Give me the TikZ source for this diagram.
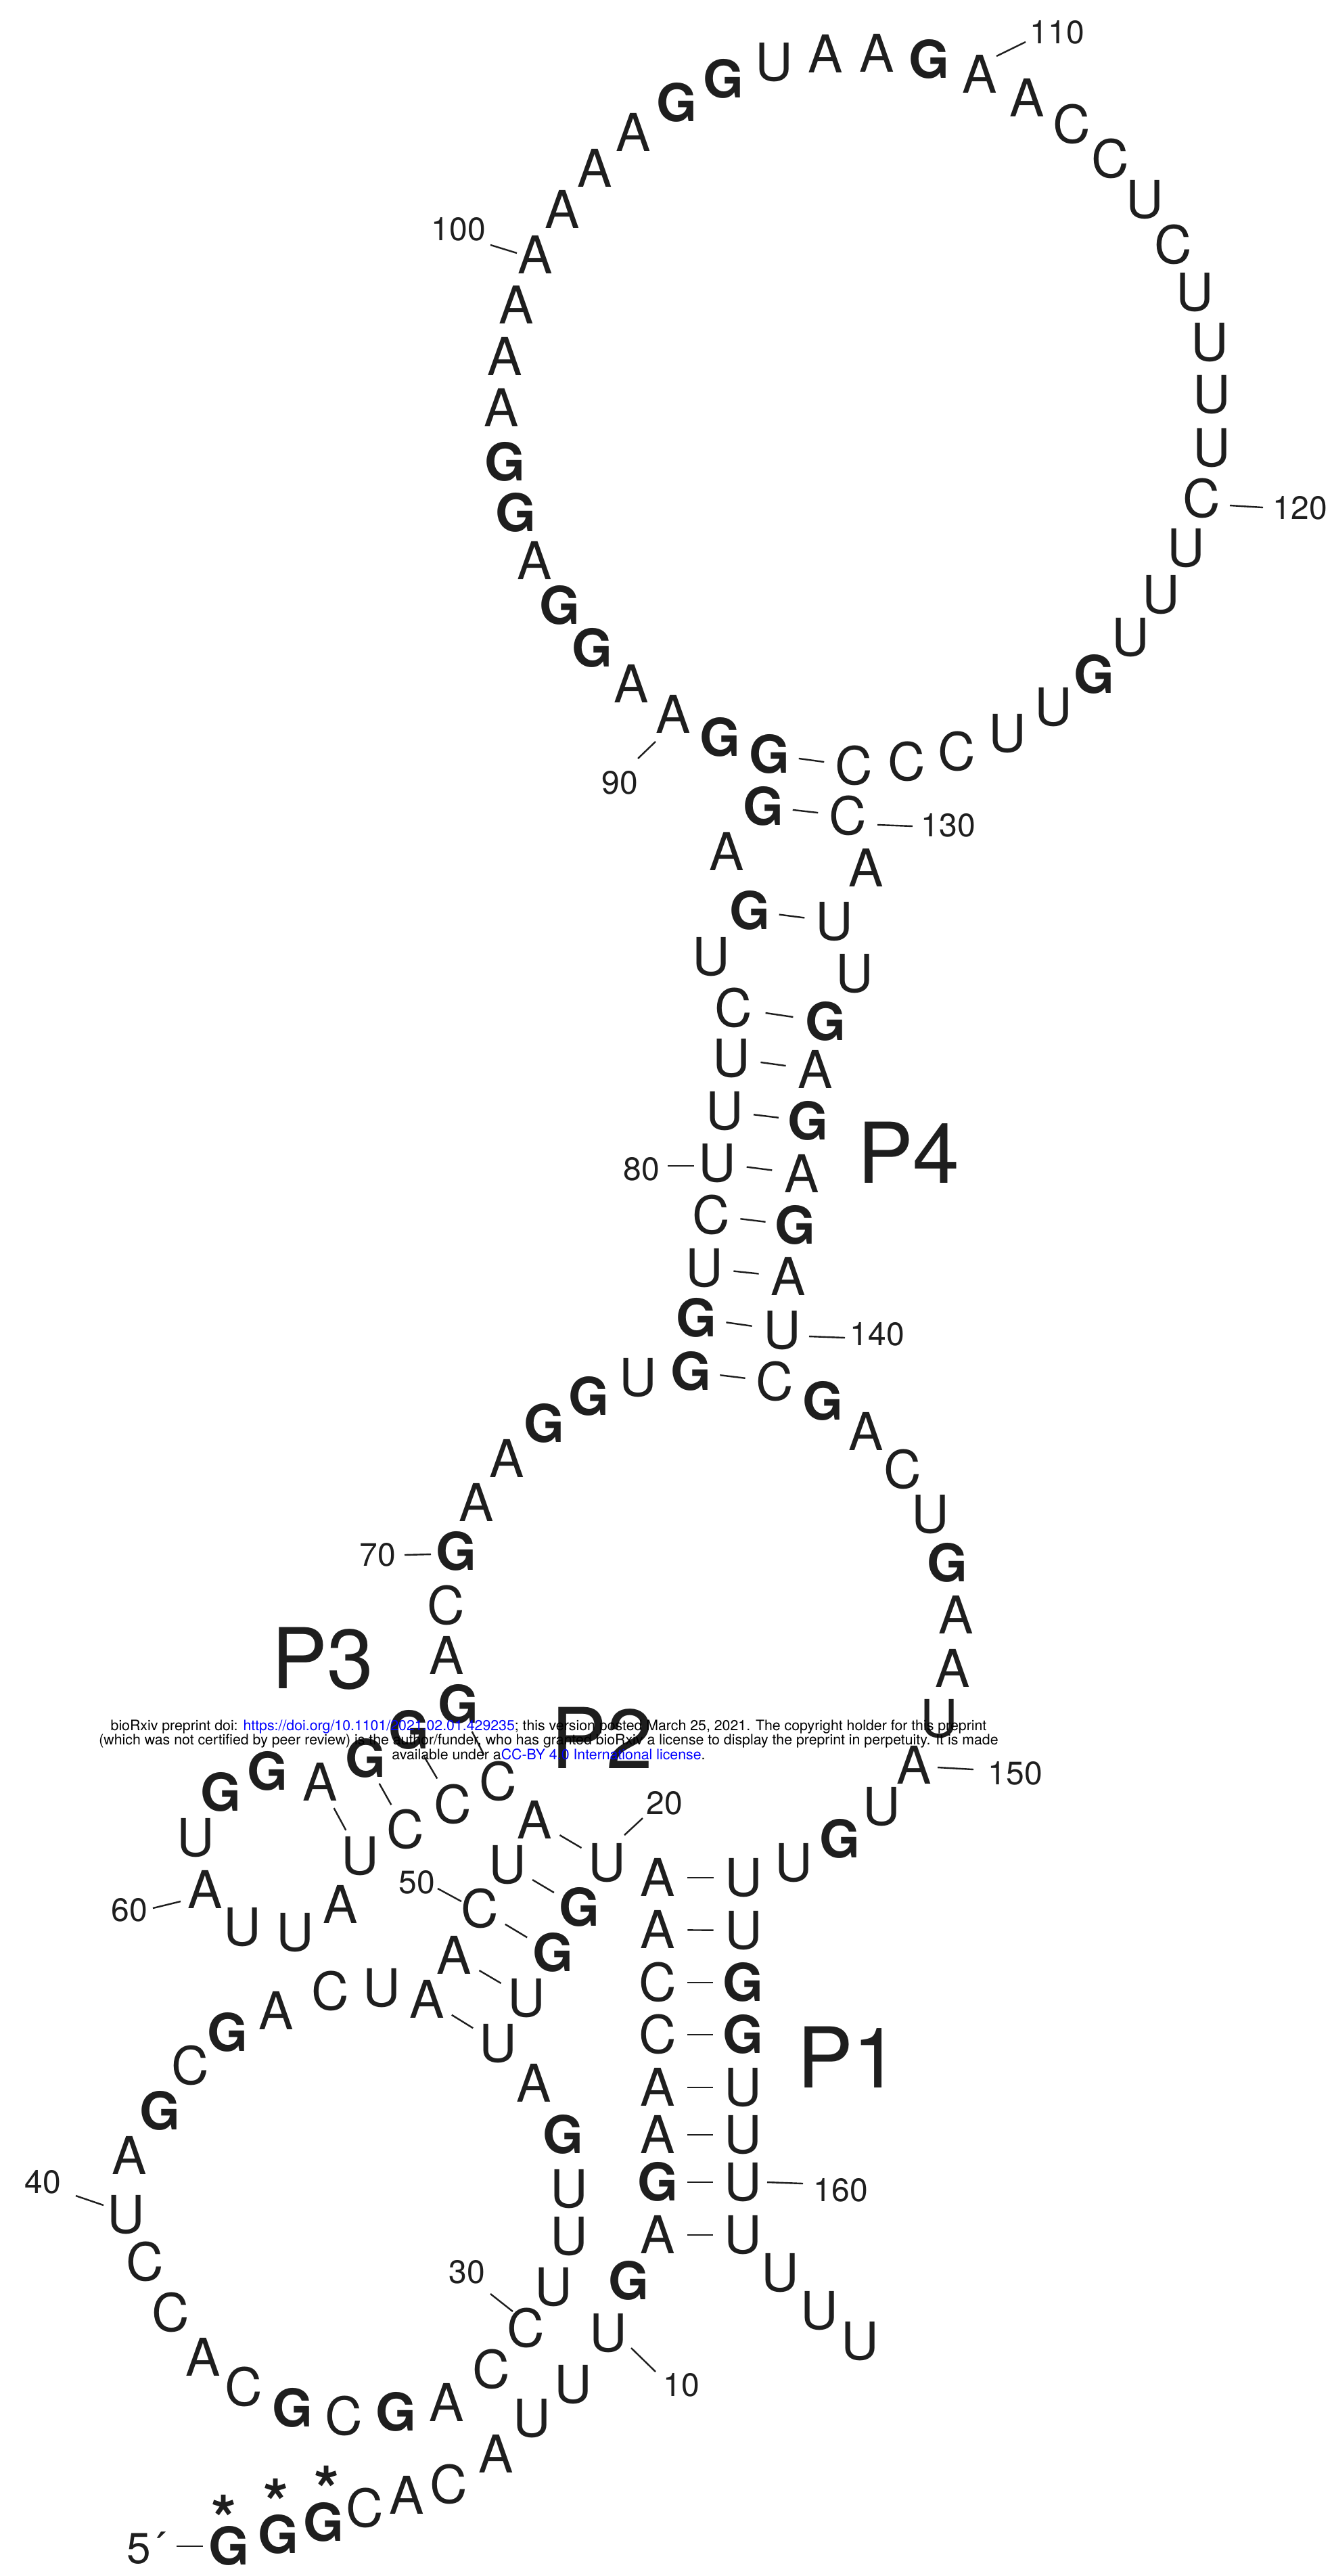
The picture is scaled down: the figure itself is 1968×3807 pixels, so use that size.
\documentclass[tikz,border=0pt]{standalone}
\usepackage{fontspec}
\setmainfont{TeX Gyre Heros}
\usetikzlibrary{calc}
\newcommand\nuc[1]{\if G#1\bfseries\fi #1}
\definecolor{wmblue}{RGB}{0,0,255}
\definecolor{ink}{RGB}{30,30,30}
\tikzset{
 nt/.style={inner sep=0pt, text height=55pt, text depth=0pt, text=ink, font=\fontsize{77}{80}\selectfont},
 num/.style={inner sep=0pt, text height=34pt, text depth=0pt, text=ink, font=\fontsize{48}{50}\selectfont},
 plab/.style={inner sep=0pt, text height=89pt, text depth=0pt, text=ink, font=\fontsize{124}{130}\selectfont},
 tick/.style={line width=2.4pt, draw=ink},
 wm/.style={inner sep=0pt, anchor=base, font=\fontsize{21.3}{22}\selectfont},
 ast/.style={inner sep=0pt, anchor=base, text=ink, font=\bfseries\fontsize{95}{95}\selectfont},
}
\begin{document}
\begin{tikzpicture}[x=1pt,y=-1pt]
\fill[white] (0,0) rectangle (1968,3807);
\useasboundingbox (0,0) rectangle (1968,3807);
% nucleotides
\foreach \i/\x/\y/\l in {
1/338/3763/G, 2/411/3746/G, 3/478/3728/G, 4/539/3707/C, 5/601/3688/A,
6/663/3672/C, 7/733/3627/A, 8/786/3574/U, 9/847/3524/U, 10/899/3448/U,
11/929/3371/G, 12/972/3303/A, 13/972/3225/G, 14/972/3155/A, 15/972/3085/A,
16/972/3007/C, 17/972/2930/C, 18/972/2852/A, 19/972/2775/A, 20/897/2753/U,
21/856/2819/G, 22/817/2886/G, 23/778/2953/U, 24/736/3020/U, 25/789/3079/A,
26/832/3155/G, 27/841/3235/U, 28/841/3305/U, 29/818/3380/U, 30/777/3441/C,
31/726/3502/C, 32/660/3551/A, 33/585/3565/G, 34/508/3571/C, 35/432/3559/G,
36/360/3528/C, 37/300/3484/A, 38/252/3418/C, 39/214/3343/C, 40/186/3273/U,
41/191/3186/A, 42/236/3120/G, 43/281/3053/C, 44/336/3004/G, 45/408/2972/A,
46/488/2943/C, 47/564/2938/U, 48/631/2955/A, 49/671/2890/A, 50/709/2821/C,
51/750/2756/U, 52/790/2690/A, 53/736/2633/C, 54/669/2667/C, 55/599/2704/C,
56/532/2743/U, 57/503/2815/A, 58/436/2856/U, 59/358/2848/U, 60/303/2793/A,
61/289/2716/U, 62/326/2649/G, 63/395/2618/G, 64/473/2634/A, 65/540/2599/G,
66/604/2557/G, 67/677/2519/G, 68/660/2447/A, 69/659/2373/C, 70/674/2293/G,
71/704/2221/A, 72/749/2156/A, 73/804/2104/G, 74/870/2064/G, 75/943/2036/U,
76/1021/2027/G, 77/1029/1948/G, 78/1041/1874/U, 79/1051/1796/C, 80/1060/1719/U,
81/1071/1642/U, 82/1081/1564/U, 83/1084/1490/C, 84/1051/1414/U, 85/1108/1346/G,
86/1074/1259/A, 87/1128/1192/G, 88/1137/1115/G, 89/1064/1090/G, 90/995/1056/A,
91/933/1011/A, 92/875/958/G, 93/827/895/G, 94/790/829/A, 95/762/758/G,
96/746/683/G, 97/741/603/A, 98/746/527/A, 99/763/451/A, 100/791/377/A,
101/831/310/A, 102/879/249/A, 103/936/196/A, 104/1000/152/G, 105/1069/117/G,
106/1144/92/U, 107/1220/80/A, 108/1296/79/A, 109/1373/88/G, 110/1448/110/A,
111/1518/145/A, 112/1584/184/C, 113/1641/235/C, 114/1692/295/U, 115/1734/362/C,
116/1766/432/U, 117/1788/506/U, 118/1791/583/U, 119/1791/662/U, 120/1776/737/C,
121/1753/810/U, 122/1716/879/U, 123/1671/942/U, 124/1617/997/G, 125/1557/1045/U,
126/1489/1084/U, 127/1414/1111/C, 128/1340/1126/C, 129/1262/1132/C, 130/1253/1206/C,
131/1280/1283/A, 132/1233/1362/U, 133/1263/1439/U, 134/1220/1510/G, 135/1205/1581/A,
136/1194/1657/G, 137/1185/1735/A, 138/1175/1811/G, 139/1165/1887/A, 140/1156/1966/U,
141/1145/2042/C, 142/1216/2071/G, 143/1280/2116/A, 144/1334/2172/C, 145/1375/2238/U,
146/1400/2310/G, 147/1413/2387/A, 148/1408/2466/A, 149/1388/2540/U, 150/1351/2609/A,
151/1303/2670/U, 152/1241/2718/G, 153/1173/2753/U, 154/1099/2775/U, 155/1099/2853/U,
156/1098/2930/G, 157/1098/3007/G, 158/1098/3085/U, 159/1098/3155/U, 160/1098/3225/U,
161/1098/3303/U, 162/1153/3359/U, 163/1211/3415/U, 164/1271/3460/U}
{\node[nt] (n\i) at (\x,\y) {\nuc{\l}};}
% base-pair ticks
\foreach \a/\b in {12/161,13/160,14/159,15/158,16/157,17/156,18/155,19/154,
20/52,21/51,22/50,23/49,24/48,53/67,54/66,55/65,56/64,
76/141,77/140,78/139,79/138,80/137,81/136,82/135,83/134,85/132,87/130,88/129}
{\draw[tick] ($(n\a)!0.35!(n\b)$) -- ($(n\a)!0.65!(n\b)$);}
% number labels
\foreach \k/\x/\y in {10/1007/3524, 20/982/2664, 30/690/3357, 40/63/3224,
50/616/2781, 60/191/2822, 70/558/2297, 80/948/1727, 90/916/1156,
100/678/338, 110/1563/47, 120/1922/750, 130/1402/1219, 140/1297/1971,
150/1501/2620, 160/1243/3236}
{\node[num] (l\k) at (\x,\y) {\k};}
\foreach \k/\xa/\ya/\xb/\yb in {10/933/3470/969/3505, 20/923/2712/950/2687,
30/725/3390/758/3416, 40/112/3245/153/3259, 50/647/2791/682/2810,
60/226/2820/267/2810, 70/598/2298/637/2297, 80/987/1723/1026/1723,
90/969/1096/943/1121, 100/725/362/764/374, 110/1473/83/1516/62,
120/1818/747/1867/750, 130/1297/1219/1349/1221, 140/1196/1975/1249/1977,
150/1386/2612/1439/2615, 160/1134/3225/1187/3227, 5/261/3763/300/3763}
{\coordinate (a\k) at (\xa,\ya); \coordinate (b\k) at (\xb,\yb); \draw[tick] (a\k) -- (b\k);}
% 5' end and asterisks
\node[inner sep=0pt, anchor=base, text=ink, font=\fontsize{64}{66}\selectfont] (l5) at (216,3788) {5´};
\node[ast] (s1) at (331,3756) {*};
\node[ast] (s2) at (408,3732) {*};
\node[ast] (s3) at (483,3713) {*};
% helix labels
\node[plab] (p1) at (1254,3041) {P1};
\node[plab] (p2) at (890,2569) {P2};
\node[plab] (p3) at (477,2451) {P3};
\node[plab] (p4) at (1343,1704) {P4};
% watermark
\node[wm] (w1) at (811,2557) {bioRxiv preprint doi: \textcolor{wmblue}{https://doi.org/10.1101/2021.02.01.429235}; this version posted March 25, 2021. The copyright holder for this preprint};
\node[wm] (w2) at (811,2578) {(which was not certified by peer review) is the author/funder, who has granted bioRxiv a license to display the preprint in perpetuity. It is made};
\node[wm] (w3) at (811,2600) {available under a\textcolor{wmblue}{CC-BY 4.0 International license}.};
\end{tikzpicture}
\end{document}
